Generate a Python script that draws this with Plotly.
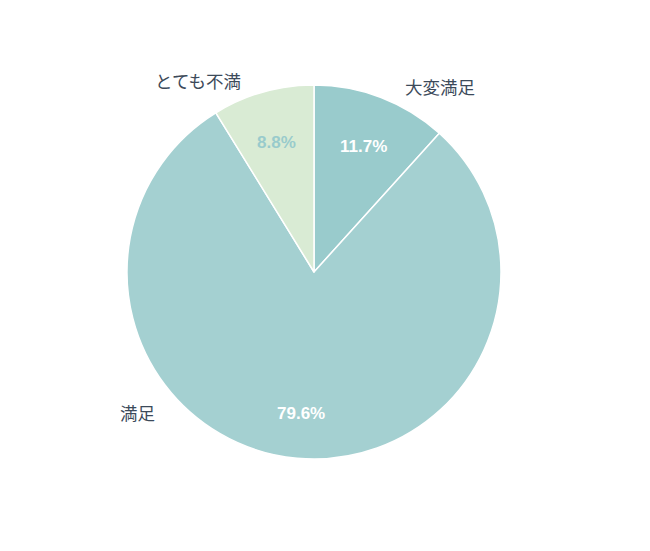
import math
import plotly.graph_objects as go

labels = ['大変満足', '満足', 'とても不満']
values = [11.7, 79.6, 8.8]
colors = ['#99cbcc', '#a4d0d1', '#d9ebd4']
pct_colors = ['#ffffff', '#ffffff', '#99cbcc']

W, H = 650, 551
OFF = 8  # page body margin
cx, cy, R = 314 - OFF, 272 - OFF, 187

# category label positions (pixels in the reference)
label_px = {
    '大変満足': (440, 87),
    '満足': (137, 412),
    'とても不満': (198, 80),
}

fig = go.Figure(go.Pie(
    labels=labels, values=values, sort=False,
    direction='clockwise', rotation=0,
    marker=dict(colors=colors, line=dict(color='#ffffff', width=1.5)),
    textinfo='none',
    hoverinfo='label+percent',
    domain=dict(x=[(cx - R) / W, (cx + R) / W],
                y=[1 - (cy + R) / H, 1 - (cy - R) / H]),
    showlegend=False,
))

# percentage labels at ~0.74 of the radius along each slice's mid angle
total = sum(values)
cum = 0
for v, c in zip(values, pct_colors):
    theta = 2 * math.pi * (cum + v / 2) / total
    cum += v
    r = 0.74 * R
    px_ = cx + r * math.sin(theta)
    py_ = cy - r * math.cos(theta)
    fig.add_annotation(text='<b>%.1f%%</b>' % v, x=px_ / W, y=1 - py_ / H,
                       xref='paper', yref='paper', showarrow=False,
                       xanchor='center', yanchor='middle', yshift=-4,
                       font=dict(family='Liberation Sans', size=17, color=c))

for name in labels:
    x, y = label_px[name]
    fig.add_annotation(text=name, x=(x - OFF) / W, y=1 - (y - OFF) / H,
                       xref='paper', yref='paper', showarrow=False,
                       xanchor='center', yanchor='middle',
                       font=dict(family='Noto Sans CJK JP', size=17.5, color='#3c4a5a'))

fig.update_layout(width=W, height=H, margin=dict(l=0, r=0, t=0, b=0),
                  paper_bgcolor='#ffffff', plot_bgcolor='#ffffff')

fig.write_html("out.html")
